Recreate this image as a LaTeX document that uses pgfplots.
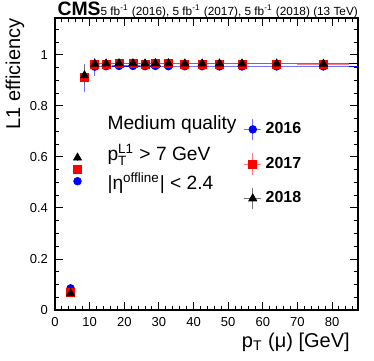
\documentclass[border=0pt]{standalone}
\usepackage{pgfplots}
\pgfplotsset{compat=1.18}
\usepackage{pgfplotstable}
\usepackage{amsmath}
\usepackage{fontspec}
\setmainfont{Liberation Sans}

% x  ex  y  ey
\pgfplotstableread{
x     ex    y      ey
4.5   0.5   0.085  0.006
6.5   0.5   0.505  0.015
8.5   0.5   0.910  0.055
11.5  1.5   0.954  0.036
14.75 1.75  0.956  0.008
18.5  2     0.957  0.005
22.5  2     0.957  0.004
26    1.5   0.956  0.004
29    1.5   0.957  0.004
32.75 2.25  0.956  0.004
37.5  2.5   0.956  0.004
42.5  2.5   0.956  0.004
47.5  2.5   0.955  0.004
54    4     0.955  0.004
64    6     0.955  0.005
77.5  7.5   0.955  0.006
}\dataA

\pgfplotstableread{
x     ex    y      ey
4.5   0.5   0.070  0.005
6.5   0.5   0.550  0.012
8.5   0.5   0.912  0.030
11.5  1.5   0.964  0.015
14.75 1.75  0.965  0.005
18.5  2     0.966  0.004
22.5  2     0.966  0.004
26    1.5   0.965  0.004
29    1.5   0.966  0.004
32.75 2.25  0.966  0.004
37.5  2.5   0.965  0.004
42.5  2.5   0.965  0.004
47.5  2.5   0.965  0.004
54    4     0.965  0.004
64    6     0.965  0.004
77.5  7.5   0.964  0.005
}\dataB

\pgfplotstableread{
x     ex    y      ey
4.5   0.5   0.065  0.005
6.5   0.5   0.597  0.012
8.5   0.5   0.920  0.040
11.5  1.5   0.965  0.015
14.75 1.75  0.966  0.005
18.5  2     0.967  0.004
22.5  2     0.967  0.004
26    1.5   0.966  0.004
29    1.5   0.967  0.004
32.75 2.25  0.967  0.004
37.5  2.5   0.966  0.004
42.5  2.5   0.966  0.004
47.5  2.5   0.966  0.004
54    4     0.966  0.004
64    6     0.966  0.004
77.5  7.5   0.965  0.005
}\dataC

% legend picture: error cross plus the mark
\pgfplotsset{
    errleg/.style={legend image code/.code={
        \draw[#1, line width=0.5pt] (-4.2pt,0) -- (4.2pt,0) (0,-5.4pt) -- (0,5.4pt);
        \draw plot coordinates {(0pt,0pt)};
    }},
}

\begin{document}
\begin{tikzpicture}
\begin{axis}[
    scale only axis,
    width=151.5pt, height=146pt,
    xmin=0, xmax=87.5, ymin=0, ymax=1.145,
    xtick={0,10,...,80},
    ytick={0,0.2,0.4,0.6,0.8,1},
    minor xtick={2,4,...,86},
    minor ytick={0.05,0.1,0.15,0.25,0.3,0.35,0.45,0.5,0.55,0.65,0.7,0.75,0.85,0.9,0.95,1.05,1.1},
    tick align=inside, tick pos=both,
    major tick length=4pt, minor tick length=2pt,
    every tick/.style={black, line width=0.5pt},
    axis line style={line width=0.6pt},
    tick label style={font=\fontsize{6.5}{7}\selectfont},
    /pgf/number format/assume math mode=true,
    clip=false,
    xlabel={p$_{\text{T}}$ (μ) [GeV]},
    ylabel={L1 efficiency},
    label style={font=\fontsize{10}{12}\selectfont},
    xlabel style={at={(rel axis cs:0.974,-0.127)}, anchor=base east, inner sep=0pt},
    ylabel style={at={(rel axis cs:-0.115,1)}, anchor=base east, inner sep=0pt},
    legend style={draw=none, fill=none, at={(rel axis cs:0.622,0.50)}, anchor=west,
        font=\bfseries\fontsize{8}{9}\selectfont, row sep=6pt, inner sep=0pt},
    legend cell align=left,
]
% plateau fits
\addplot[blue, line width=0.5pt, forget plot] coordinates {(10,0.955) (87.5,0.955)};
\addplot[red, line width=0.5pt, forget plot] coordinates {(10,0.965) (87.5,0.965)};
\addplot[black, line width=0.5pt, forget plot] coordinates {(10,0.966) (87.5,0.966)};

\addplot[only marks, mark=*, mark size=1.9pt, blue, mark options={fill=blue, draw=blue},
    errleg=blue!55,
    error bars/.cd, x dir=both, x explicit, y dir=both, y explicit,
    error bar style={blue!55, line width=0.5pt}, error mark=none]
    table[x=x, y=y, x error=ex, y error=ey] {\dataA};
\addplot[only marks, mark=square*, mark size=2pt, red, mark options={fill=red, draw=red},
    errleg=red!50,
    error bars/.cd, x dir=both, x explicit, y dir=both, y explicit,
    error bar style={red!50, line width=0.5pt}, error mark=none]
    table[x=x, y=y, x error=ex, y error=ey] {\dataB};
\addplot[only marks, mark=triangle*, mark size=2.3pt, black, mark options={fill=black, draw=black},
    errleg=black!55,
    error bars/.cd, x dir=both, x explicit, y dir=both, y explicit,
    error bar style={black!55, line width=0.5pt}, error mark=none]
    table[x=x, y=y, x error=ex, y error=ey] {\dataC};

\legend{2016,2017,2018}

\node[anchor=west, inner sep=0pt, font=\fontsize{9.6}{11}\selectfont] at (rel axis cs:0.172,0.634) {Medium quality};
\node[anchor=west, inner sep=0pt, font=\fontsize{9.6}{11}\selectfont] at (rel axis cs:0.172,0.531) {p$^{\text{L1}}_{\text{T}}$ > 7 GeV};
\node[anchor=west, inner sep=0pt, font=\fontsize{9.6}{11}\selectfont] at (rel axis cs:0.172,0.435) {|η$^{\text{offline}}$| < 2.4};

\node[anchor=base west, inner sep=0pt] at (rel axis cs:0.007,1.007)
    {{\bfseries\fontsize{9.7}{11}\selectfont CMS}{\fontsize{5.9}{7}\selectfont 5 fb\textsuperscript{-1} (2016), 5 fb\textsuperscript{-1} (2017), 5 fb\textsuperscript{-1} (2018) (13 TeV)}};
\end{axis}
\pgfresetboundingbox
\path[use as bounding box] ([shift={(-27.5pt,-25pt)}]current axis.south west) rectangle ([shift={(8pt,9pt)}]current axis.north east);
\end{tikzpicture}
\end{document}
